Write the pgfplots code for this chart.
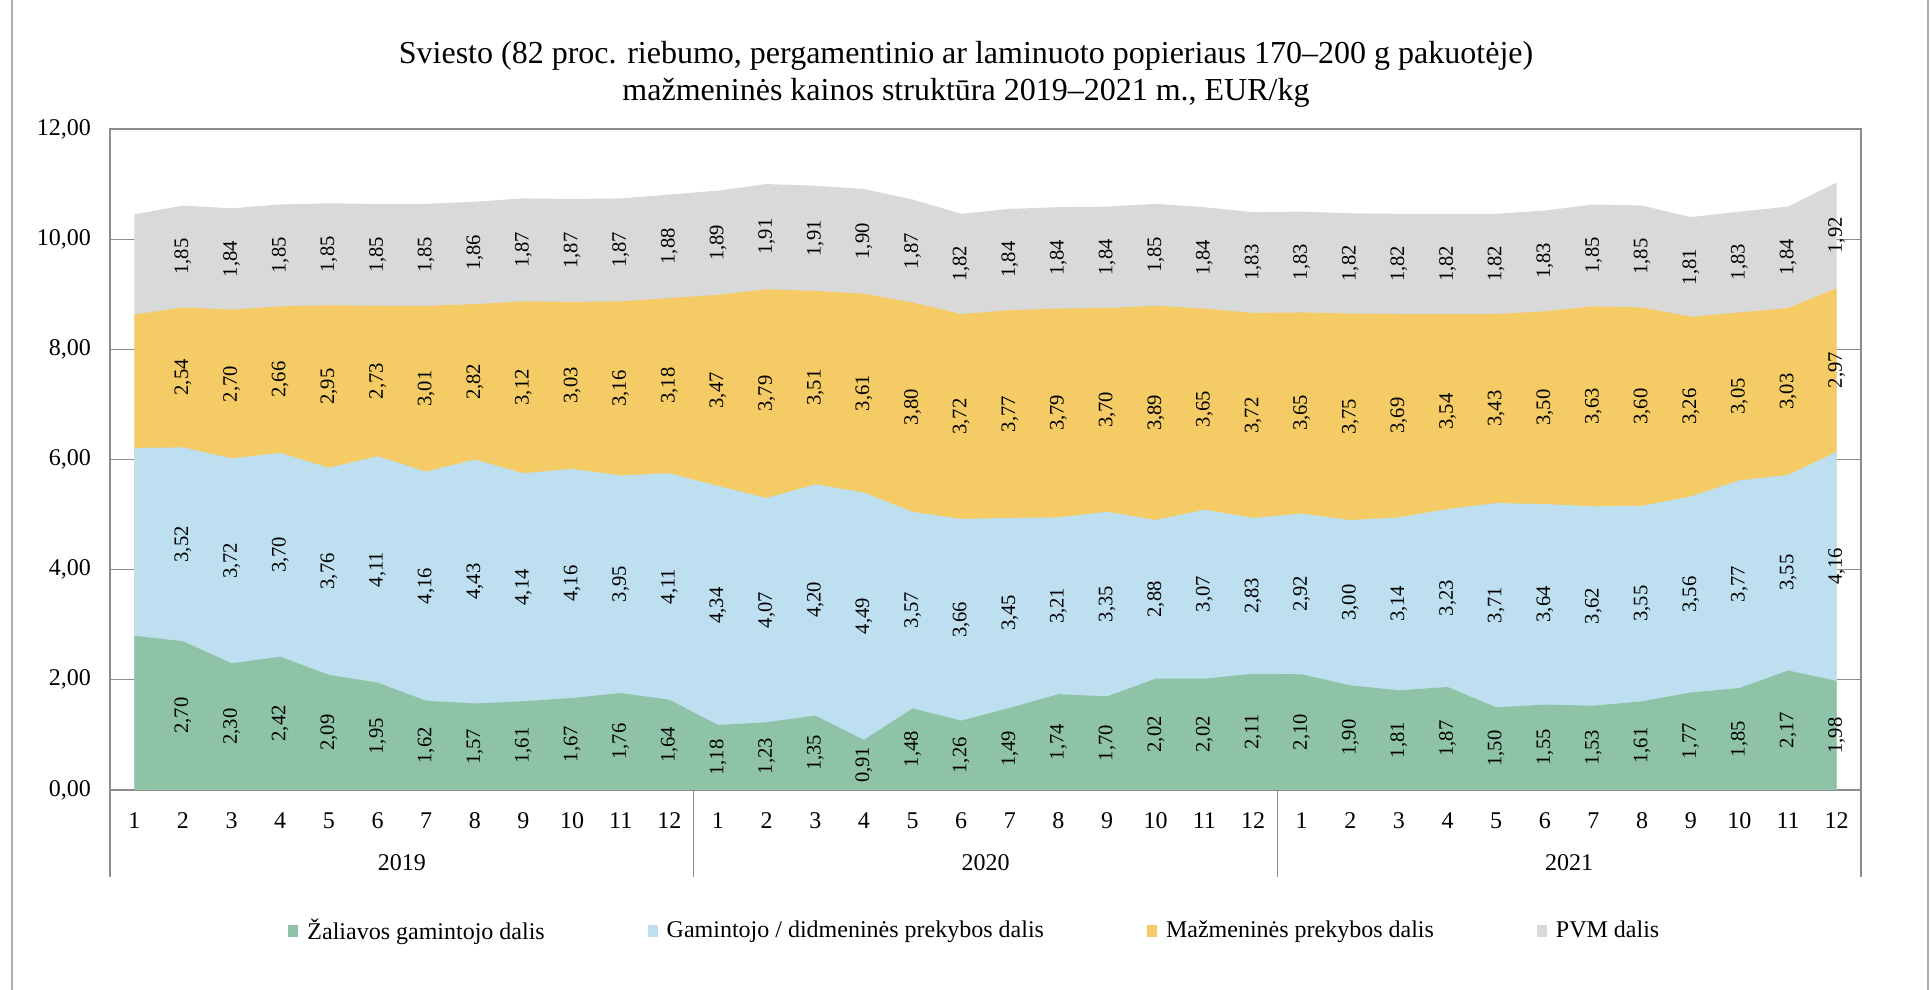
\documentclass[border=0pt]{standalone}
\usepackage{pgfplots}
\usepackage{pgfplotstable}
\pgfplotsset{compat=1.18}
\usepackage{fontspec}
\setmainfont{Liberation Serif}
\definecolor{cG}{HTML}{8FC3A7}
\definecolor{cB}{HTML}{BDDFEF}
\definecolor{cY}{HTML}{F4CB65}
\definecolor{cP}{HTML}{D9D9D9}
\definecolor{cAx}{HTML}{8C8C8C}

\pgfplotstableread{
x g b m p
0 2.80 3.41 2.42 1.82
1 2.70 3.52 2.54 1.85
2 2.30 3.72 2.70 1.84
3 2.42 3.70 2.66 1.85
4 2.09 3.76 2.95 1.85
5 1.95 4.11 2.73 1.85
6 1.62 4.16 3.01 1.85
7 1.57 4.43 2.82 1.86
8 1.61 4.14 3.12 1.87
9 1.67 4.16 3.03 1.87
10 1.76 3.95 3.16 1.87
11 1.64 4.11 3.18 1.88
12 1.18 4.34 3.47 1.89
13 1.23 4.07 3.79 1.91
14 1.35 4.20 3.51 1.91
15 0.91 4.49 3.61 1.90
16 1.48 3.57 3.80 1.87
17 1.26 3.66 3.72 1.82
18 1.49 3.45 3.77 1.84
19 1.74 3.21 3.79 1.84
20 1.70 3.35 3.70 1.84
21 2.02 2.88 3.89 1.85
22 2.02 3.07 3.65 1.84
23 2.11 2.83 3.72 1.83
24 2.10 2.92 3.65 1.83
25 1.90 3.00 3.75 1.82
26 1.81 3.14 3.69 1.82
27 1.87 3.23 3.54 1.82
28 1.50 3.71 3.43 1.82
29 1.55 3.64 3.50 1.83
30 1.53 3.62 3.63 1.85
31 1.61 3.55 3.60 1.85
32 1.77 3.56 3.26 1.81
33 1.85 3.77 3.05 1.83
34 2.17 3.55 3.03 1.84
35 1.98 4.16 2.97 1.92
}\data

\begin{document}
\begin{tikzpicture}
\useasboundingbox (0,0) rectangle (966pt,495pt);
\draw[cAx!70, line width=0.8pt] (6pt,-2pt) -- (6pt,497pt);
\draw[cAx!70, line width=0.8pt] (964pt,-2pt) -- (964pt,497pt);
\node[align=center, font=\fontsize{16}{18.5}\selectfont] at (483pt,458pt)
  {Sviesto (82 proc. riebumo, pergamentinio ar laminuoto popieriaus 170–200 g pakuotėje)\\mažmeninės kainos struktūra 2019–2021 m., EUR/kg};
\begin{axis}[
  at={(55pt,100pt)}, anchor=south west,
  scale only axis, width=875.5pt, height=330.5pt,
  xmin=-0.5, xmax=35.5, ymin=0, ymax=12,
  ytick={0,2,...,12},
  xtick={0,...,35},
  xticklabels={1,2,3,4,5,6,7,8,9,10,11,12,1,2,3,4,5,6,7,8,9,10,11,12,1,2,3,4,5,6,7,8,9,10,11,12},
  /pgf/number format/assume math mode=true,
  yticklabel={\pgfmathprintnumber[fixed,fixed zerofill,precision=2,use comma]{\tick}},
  tick label style={font=\fontsize{12}{14}\selectfont},
  xticklabel style={anchor=base, yshift=-19.2pt},
  yticklabel style={xshift=-6pt},
  major tick length=0pt,
  tick pos=left,
  ymajorgrids, grid style={cAx, line width=0.6pt},
  axis line style={cAx, line width=0.8pt},
  extra x ticks={-0.5,11.5,23.5,35.5},
  extra x tick labels={},
  extra x tick style={major tick length=43.5pt, tick align=outside, xmajorgrids=false,
    tick style={draw=cAx, line width=0.8pt}},
  clip=false,
  legend columns=4,
  legend style={at={(0.4945,-0.2133)}, anchor=center, draw=none, fill=none,
    font=\fontsize{12}{14}\selectfont,
    /tikz/every even column/.append style={column sep=49.5pt}},
  legend image code/.code={\path (0pt,0pt) -- (7.5pt,0pt);\fill[#1] (0pt,-3pt) rectangle (5pt,3pt);},
  nodes near coords style={rotate=90, anchor=center, font=\fontsize{10.3}{12}\selectfont, text=black},
]
\addlegendimage{fill=cG, draw=none}
\addlegendentry{Žaliavos gamintojo dalis}
\addlegendimage{fill=cB, draw=none}
\addlegendentry{Gamintojo / didmeninės prekybos dalis}
\addlegendimage{fill=cY, draw=none}
\addlegendentry{Mažmeninės prekybos dalis}
\addlegendimage{fill=cP, draw=none}
\addlegendentry{PVM dalis}

\addplot[fill=cP, draw=none, forget plot] table[x=x, y expr=\thisrow{g}+\thisrow{b}+\thisrow{m}+\thisrow{p}] {\data} \closedcycle;
\addplot[fill=cY, draw=none, forget plot] table[x=x, y expr=\thisrow{g}+\thisrow{b}+\thisrow{m}] {\data} \closedcycle;
\addplot[fill=cB, draw=none, forget plot] table[x=x, y expr=\thisrow{g}+\thisrow{b}] {\data} \closedcycle;
\addplot[fill=cG, draw=none, forget plot] table[x=x, y=g] {\data} \closedcycle;

\addplot[draw=none, mark=none, forget plot, skip coords between index={0}{1}, point meta=explicit,
  nodes near coords={\pgfmathprintnumber[fixed,fixed zerofill,precision=2,use comma]{\pgfplotspointmeta}}]
  table[x=x, y expr=\thisrow{g}/2, meta=g] {\data};
\addplot[draw=none, mark=none, forget plot, skip coords between index={0}{1}, point meta=explicit,
  nodes near coords={\pgfmathprintnumber[fixed,fixed zerofill,precision=2,use comma]{\pgfplotspointmeta}}]
  table[x=x, y expr=\thisrow{g}+\thisrow{b}/2, meta=b] {\data};
\addplot[draw=none, mark=none, forget plot, skip coords between index={0}{1}, point meta=explicit,
  nodes near coords={\pgfmathprintnumber[fixed,fixed zerofill,precision=2,use comma]{\pgfplotspointmeta}}]
  table[x=x, y expr=\thisrow{g}+\thisrow{b}+\thisrow{m}/2, meta=m] {\data};
\addplot[draw=none, mark=none, forget plot, skip coords between index={0}{1}, point meta=explicit,
  nodes near coords={\pgfmathprintnumber[fixed,fixed zerofill,precision=2,use comma]{\pgfplotspointmeta}}]
  table[x=x, y expr=\thisrow{g}+\thisrow{b}+\thisrow{m}+\thisrow{p}/2, meta=p] {\data};

\node[font=\fontsize{12}{14}\selectfont, anchor=base] at ([yshift=-40.2pt]axis cs:5.5,0) {2019};
\node[font=\fontsize{12}{14}\selectfont, anchor=base] at ([yshift=-40.2pt]axis cs:17.5,0) {2020};
\node[font=\fontsize{12}{14}\selectfont, anchor=base] at ([yshift=-40.2pt]axis cs:29.5,0) {2021};
\end{axis}
\end{tikzpicture}
\end{document}
